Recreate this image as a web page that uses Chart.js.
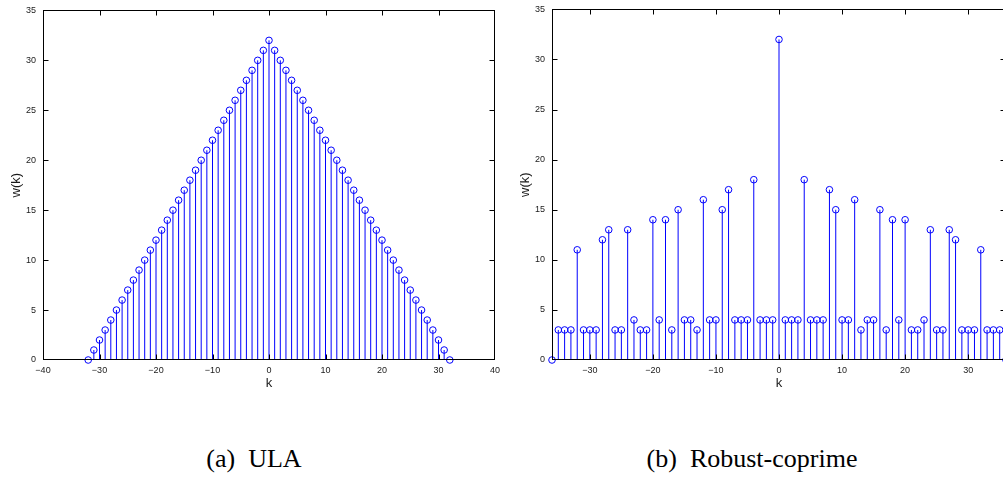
<!DOCTYPE html>
<html>
<head>
<meta charset="utf-8">
<script src="https://cdn.jsdelivr.net/npm/chart.js@4.4.1/dist/chart.umd.min.js"></script>
<style>
  html, body { margin: 0; padding: 0; background: #fff; }
  #page { position: relative; width: 1003px; height: 484px; overflow: hidden; }
  canvas { position: absolute; }
  .caption {
    position: absolute;
    font-family: "Liberation Serif", "DejaVu Serif", serif;
    font-size: 26px;
    color: #000;
    white-space: nowrap;
    transform: translateX(-50%);
  }
</style>
</head>
<body>
<div id="page">
  <canvas id="ulaChart" width="510" height="412" style="left:0;top:-2px"></canvas>
  <canvas id="cpChart" width="511" height="413" style="left:510px;top:-3px"></canvas>
  <div class="caption" style="left:254px;top:444px">(a)&nbsp; ULA</div>
  <div class="caption" style="left:752px;top:444px">(b)&nbsp; Robust-coprime</div>
</div>
<script>
// weight function w(k) of the uniform linear array
const ulaLags = [
  -32, -31, -30, -29, -28, -27, -26, -25, -24, -23, -22, -21, -20, -19, -18, -17,
  -16, -15, -14, -13, -12, -11, -10, -9, -8, -7, -6, -5, -4, -3, -2, -1,
  0, 1, 2, 3, 4, 5, 6, 7, 8, 9, 10, 11, 12, 13, 14, 15, 16,
  17, 18, 19, 20, 21, 22, 23, 24, 25, 26, 27, 28, 29, 30, 31, 32
];
const ulaWeights = [
  0, 1, 2, 3, 4, 5, 6, 7, 8, 9, 10, 11, 12, 13, 14, 15,
  16, 17, 18, 19, 20, 21, 22, 23, 24, 25, 26, 27, 28, 29, 30, 31,
  32, 31, 30, 29, 28, 27, 26, 25, 24, 23, 22, 21, 20, 19, 18, 17, 16,
  15, 14, 13, 12, 11, 10, 9, 8, 7, 6, 5, 4, 3, 2, 1, 0
];

// weight function w(k) of the robust coprime array
const cpLags = [
  -36, -35, -34, -33, -32, -31, -30, -29, -28, -27, -26, -25, -24, -23, -22, -21, -20, -19,
  -18, -17, -16, -15, -14, -13, -12, -11, -10, -9, -8, -7, -6, -5, -4, -3, -2, -1,
  0, 1, 2, 3, 4, 5, 6, 7, 8, 9, 10, 11, 12, 13, 14, 15, 16, 17, 18,
  19, 20, 21, 22, 23, 24, 25, 26, 27, 28, 29, 30, 31, 32, 33, 34, 35, 36
];
const cpWeights = [
  0, 3, 3, 3, 11, 3, 3, 3, 12, 13, 3, 3, 13, 4, 3, 3, 14, 4,
  14, 3, 15, 4, 4, 3, 16, 4, 4, 15, 17, 4, 4, 4, 18, 4, 4, 4,
  32, 4, 4, 4, 18, 4, 4, 4, 17, 15, 4, 4, 16, 3, 4, 4, 15, 3, 14,
  4, 14, 3, 3, 4, 13, 3, 3, 13, 12, 3, 3, 3, 11, 3, 3, 3, 0
];

const yTickValues = [0, 5, 10, 15, 20, 25, 30, 35];
const xTickStep = 10;

const STEM_BLUE = "#0000ff";
const INK = "#1a1a1a";

Chart.defaults.font.family = "'Liberation Sans', Arial, sans-serif";
Chart.defaults.font.size = 9;
Chart.defaults.color = INK;

function fmt(v) {
  return v < 0 ? "\u2212" + Math.abs(v) : String(v);
}

// vertical stem from the baseline up to each marker
const stemPlugin = {
  id: "stems",
  beforeDatasetsDraw(chart) {
    const { ctx, scales } = chart;
    const y0 = scales.y.getPixelForValue(0);
    const meta = chart.getDatasetMeta(0);
    ctx.save();
    ctx.strokeStyle = STEM_BLUE;
    ctx.lineWidth = 1;
    ctx.beginPath();
    meta.data.forEach((pt) => {
      ctx.moveTo(pt.x, y0);
      ctx.lineTo(pt.x, pt.y);
    });
    ctx.stroke();
    ctx.restore();
  },
};

// boxed axes with inward tick marks on all four sides
const boxPlugin = {
  id: "box",
  afterDraw(chart) {
    const { ctx, chartArea: a, scales } = chart;
    const L = Math.round(a.left) + 0.5;
    const R = Math.round(a.right) - 0.5;
    const T = Math.round(a.top) + 0.5;
    const B = Math.round(a.bottom) - 0.5;
    const len = 5;
    ctx.save();
    ctx.strokeStyle = "#000";
    ctx.lineWidth = 1;
    ctx.strokeRect(L, T, R - L, B - T);
    ctx.beginPath();
    scales.x.ticks.forEach((t) => {
      if (t.value % xTickStep !== 0) return;
      const px = Math.round(scales.x.getPixelForValue(t.value)) + 0.5;
      if (px <= L + 1 || px >= R - 1) return;
      ctx.moveTo(px, B); ctx.lineTo(px, B - len);
      ctx.moveTo(px, T); ctx.lineTo(px, T + len);
    });
    scales.y.ticks.forEach((t) => {
      const py = Math.round(scales.y.getPixelForValue(t.value)) + 0.5;
      if (py <= T + 1 || py >= B - 1) return;
      ctx.moveTo(L, py); ctx.lineTo(L + len, py);
      ctx.moveTo(R, py); ctx.lineTo(R - len, py);
    });
    ctx.stroke();
    ctx.restore();
  },
};

function makeStemChart(id, lags, weights, xMin, xMax, yAxisWidth, yTitlePad) {
  const points = lags.map((k, i) => ({ x: k, y: weights[i] }));
  return new Chart(document.getElementById(id), {
    type: "scatter",
    data: {
      datasets: [{
        data: points,
        pointStyle: "circle",
        pointRadius: 3.3,
        pointHoverRadius: 3.3,
        borderWidth: 1,
        borderColor: STEM_BLUE,
        backgroundColor: "rgba(0,0,0,0)",
        showLine: false,
        clip: false,
      }],
    },
    options: {
      responsive: false,
      animation: false,
      events: [],
      layout: { padding: { top: 6, right: 15, bottom: 0, left: 0 } },
      plugins: { legend: { display: false }, tooltip: { enabled: false } },
      scales: {
        x: {
          type: "linear",
          min: xMin,
          max: xMax,
          grid: { display: false, drawTicks: false },
          border: { display: false },
          ticks: {
            stepSize: xTickStep,
            padding: 5,
            maxRotation: 0,
            autoSkip: false,
            callback: (v) => (v % xTickStep === 0 ? fmt(v) : ""),
          },
          title: {
            display: true,
            text: "k",
            font: { size: 13 },
            color: INK,
            padding: { top: 0, bottom: 19 },
          },
          afterFit: (s) => { s.height = 50; },
        },
        y: {
          type: "linear",
          min: 0,
          max: 35,
          grid: { display: false, drawTicks: false },
          border: { display: false },
          afterBuildTicks: (s) => { s.ticks = yTickValues.map((v) => ({ value: v })); },
          ticks: { padding: 7, callback: (v) => fmt(v) },
          title: {
            display: true,
            text: "w(k)",
            font: { size: 13 },
            color: INK,
            padding: { top: yTitlePad, bottom: 0 },
          },
          afterFit: (s) => { s.width = yAxisWidth; },
        },
      },
    },
    plugins: [stemPlugin, boxPlugin],
  });
}

makeStemChart("ulaChart", ulaLags, ulaWeights, -40, 40, 43, 9);
makeStemChart("cpChart", cpLags, cpWeights, -36, 36, 42, 8);
</script>
</body>
</html>
